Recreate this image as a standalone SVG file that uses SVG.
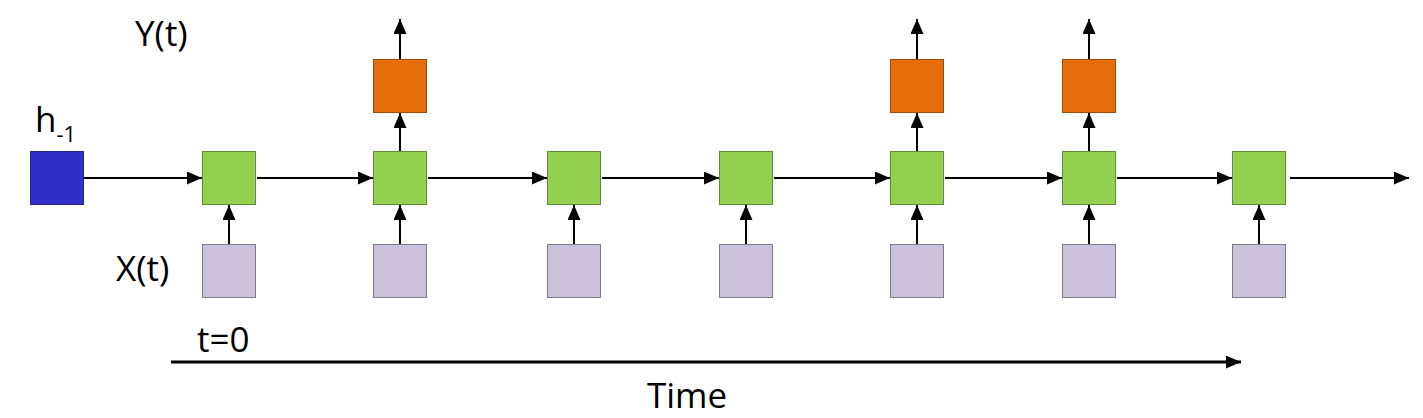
<svg xmlns="http://www.w3.org/2000/svg" width="1423" height="418" viewBox="0 0 1423 418">
  <defs>
    <marker id="ah" markerUnits="userSpaceOnUse" markerWidth="15" markerHeight="13" refX="15" refY="6.5" orient="auto">
      <path d="M0,0 L15,6.5 L0,13 z" fill="#000"/>
    </marker>
    <style>
      .lbl { font-family: "Open Sans", "Liberation Sans", sans-serif; font-size: 35px; fill: #000; }
      .h { fill: #3030C8; stroke: #24248f; stroke-width: 1; }
      .g { fill: #92D050; stroke: #5f8a3a; stroke-width: 1; }
      .o { fill: #E46C0A; stroke: #a04c08; stroke-width: 1; }
      .x { fill: #CCC1DA; stroke: #7f7a88; stroke-width: 1; }
      .c { stroke: #000; stroke-width: 2; fill: none; marker-end: url(#ah); }
      .t { stroke: #000; stroke-width: 3; fill: none; marker-end: url(#ah); }
    </style>
  </defs>
  <rect width="1423" height="418" fill="#fff"/>

  <g id="labels">
    <text class="lbl" x="135" y="46">Y(t)</text>
    <text class="lbl" x="116" y="281">X(t)</text>
    <text class="lbl" x="35" y="132">h<tspan font-size="22" dy="10">-1</tspan></text>
    <text class="lbl" x="197" y="352">t=0</text>
    <text class="lbl" x="647" y="408">Time</text>
  </g>

  <g id="h-1"><rect class="h" x="30.5" y="151.5" width="53" height="53"/></g>

  <g id="h0"><rect class="g" x="202.5" y="151.5" width="53" height="53"/></g>
  <g id="h1"><rect class="g" x="373.5" y="151.5" width="53" height="53"/></g>
  <g id="h2"><rect class="g" x="547.5" y="151.5" width="53" height="53"/></g>
  <g id="h3"><rect class="g" x="719.5" y="151.5" width="53" height="53"/></g>
  <g id="h4"><rect class="g" x="890.5" y="151.5" width="53" height="53"/></g>
  <g id="h5"><rect class="g" x="1062.5" y="151.5" width="53" height="53"/></g>
  <g id="h6"><rect class="g" x="1232.5" y="151.5" width="53" height="53"/></g>

  <g id="x0"><rect class="x" x="202.5" y="244.5" width="53" height="53"/></g>
  <g id="x1"><rect class="x" x="373.5" y="244.5" width="53" height="53"/></g>
  <g id="x2"><rect class="x" x="547.5" y="244.5" width="53" height="53"/></g>
  <g id="x3"><rect class="x" x="719.5" y="244.5" width="53" height="53"/></g>
  <g id="x4"><rect class="x" x="890.5" y="244.5" width="53" height="53"/></g>
  <g id="x5"><rect class="x" x="1062.5" y="244.5" width="53" height="53"/></g>
  <g id="x6"><rect class="x" x="1232.5" y="244.5" width="53" height="53"/></g>

  <g id="y1"><rect class="o" x="373.5" y="59.5" width="53" height="53"/></g>
  <g id="y4"><rect class="o" x="890.5" y="59.5" width="53" height="53"/></g>
  <g id="y5"><rect class="o" x="1062.5" y="59.5" width="53" height="53"/></g>

  <g id="connectors">
    <line class="c" x1="84" y1="178" x2="202" y2="178"/>
    <line class="c" x1="257" y1="178" x2="373" y2="178"/>
    <line class="c" x1="428" y1="178" x2="547" y2="178"/>
    <line class="c" x1="602" y1="178" x2="719" y2="178"/>
    <line class="c" x1="774" y1="178" x2="890" y2="178"/>
    <line class="c" x1="945" y1="178" x2="1062" y2="178"/>
    <line class="c" x1="1117" y1="178" x2="1232" y2="178"/>
    <line class="c" x1="1290" y1="178" x2="1409" y2="178"/>
    <line class="c" x1="229" y1="244" x2="229" y2="205"/>
    <line class="c" x1="400" y1="244" x2="400" y2="205"/>
    <line class="c" x1="574" y1="244" x2="574" y2="205"/>
    <line class="c" x1="746" y1="244" x2="746" y2="205"/>
    <line class="c" x1="917" y1="244" x2="917" y2="205"/>
    <line class="c" x1="1089" y1="244" x2="1089" y2="205"/>
    <line class="c" x1="1259" y1="244" x2="1259" y2="205"/>
    <line class="c" x1="400" y1="151" x2="400" y2="113"/>
    <line class="c" x1="917" y1="151" x2="917" y2="113"/>
    <line class="c" x1="1089" y1="151" x2="1089" y2="113"/>
    <line class="c" x1="400" y1="59" x2="400" y2="19"/>
    <line class="c" x1="917" y1="59" x2="917" y2="19"/>
    <line class="c" x1="1089" y1="59" x2="1089" y2="19"/>
    <line class="t" x1="171" y1="362" x2="1241" y2="362"/>
  </g>
</svg>
